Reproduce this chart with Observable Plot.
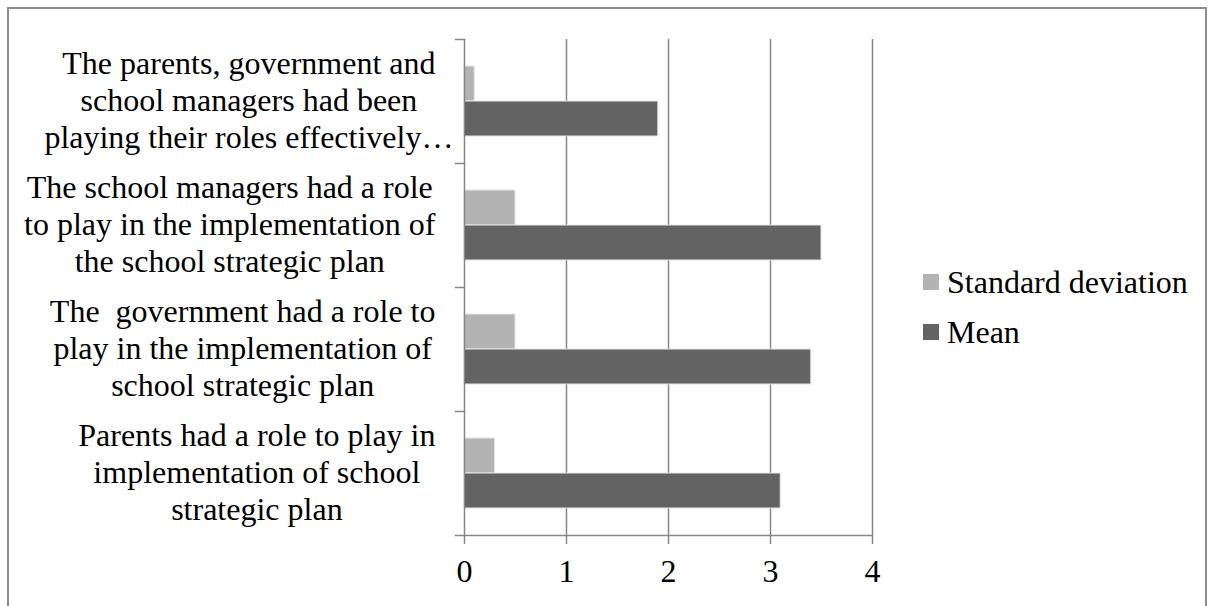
<!DOCTYPE html>
<html><head><meta charset="utf-8">
<script src="https://cdn.jsdelivr.net/npm/d3@7"></script>
<script src="https://cdn.jsdelivr.net/npm/@observablehq/plot@0.6"></script>
<style>
body{margin:0;background:#fff;}
#wrap{position:relative;width:1215px;height:606px;overflow:hidden;font-family:"Liberation Serif","Times New Roman",serif;}
#border{position:absolute;left:7px;top:7px;width:1200px;height:640px;border:2px solid #8c8c8c;box-sizing:border-box;}
#chart{position:absolute;left:0;top:0;}
#chart svg text{white-space:pre;}
#legend{position:absolute;left:923px;top:262px;}
.item{display:flex;align-items:center;height:40px;margin-bottom:10px;font-size:32px;color:#000;white-space:nowrap;}
.sw{width:16px;height:16px;margin-right:8px;flex:none;}
</style></head><body>
<div id="wrap"><div id="border"></div><div id="chart"></div><div id="legend"></div></div>
<script>
const categories = [
  "The parents, government and\nschool managers had been\nplaying their roles effectively…",
  "The school managers had a role\nto play in the implementation of\nthe school strategic plan",
  "The  government had a role to\nplay in the implementation of\nschool strategic plan",
  "Parents had a role to play in\nimplementation of school\nstrategic plan"
];
const series = ["Standard deviation", "Mean"];
const sdValues = [0.1, 0.5, 0.5, 0.3];
const meanValues = [1.9, 3.5, 3.4, 3.1];
const xTicks = [0, 1, 2, 3, 4];
const colors = ["#b3b3b3", "#636363"];

const table = [];
categories.forEach((c, i) => {
  table.push({category: c, series: series[0], value: sdValues[i]});
  table.push({category: c, series: series[1], value: meanValues[i]});
});

const W = 1215, H = 606, mL = 464, mR = 343, mT = 37, mB = 70;
const axisGray = "#878787";
const font = '"Liberation Serif","Times New Roman",serif';

// measure label lines so each label block is right-aligned with centered lines
const ctx = document.createElement("canvas").getContext("2d");
ctx.font = '32px "Liberation Serif"';
const labelRight = 435;
const labelAxes = categories.map(c => {
  const lines = c.split("\n").filter(l => !l.endsWith("…"));
  const maxW = d3.max(lines, l => ctx.measureText(l).width);
  const center = labelRight - maxW / 2;
  return Plot.axisFy({
    anchor: "left", ticks: [c], tickSize: 0, tickPadding: 3,
    textAnchor: "middle", dx: center - (mL - 3), dy: -2, lineHeight: 1.16,
    fontSize: 32, fill: "black", label: null
  });
});

const chart = Plot.plot({
  width: W, height: H,
  marginLeft: mL, marginRight: mR, marginTop: mT, marginBottom: mB,
  style: {fontFamily: font, fontSize: "32px", color: "black", background: "transparent", overflow: "visible"},
  x: {domain: [xTicks[0], xTicks[xTicks.length - 1]], axis: null},
  y: {domain: series, axis: null, paddingInner: 0, paddingOuter: 0.76},
  fy: {domain: categories, padding: 0, axis: null},
  color: {domain: series, range: colors},
  marks: [
    Plot.ruleX(xTicks.slice(1), {stroke: axisGray, strokeWidth: 1.5}),
    Plot.barX(table, {x: "value", y: "series", fy: "category", fill: "series", stroke: "#e6e6e6", strokeWidth: 1}),
    Plot.ruleX([xTicks[0]], {stroke: axisGray, strokeWidth: 1.5}),
    Plot.frame({anchor: "top", insetLeft: -9, insetRight: W - mL - mR, stroke: axisGray, strokeWidth: 1.5}),
    Plot.frame({anchor: "bottom", facetAnchor: "bottom", insetLeft: -9, stroke: axisGray, strokeWidth: 1.5}),
    Plot.axisX({ticks: xTicks, tickFormat: d3.format("d"), tickSize: 9, tickPadding: 15, stroke: axisGray, strokeWidth: 1.5, fill: "black", fontSize: 32, label: null}),
    ...labelAxes
  ]
});
document.getElementById("chart").appendChild(chart);

const legend = document.getElementById("legend");
series.forEach((s, i) => {
  const item = document.createElement("div");
  item.className = "item";
  const sw = document.createElement("span");
  sw.className = "sw";
  sw.style.background = colors[i];
  const t = document.createElement("span");
  t.textContent = s;
  item.appendChild(sw);
  item.appendChild(t);
  legend.appendChild(item);
});
</script>
</body></html>
